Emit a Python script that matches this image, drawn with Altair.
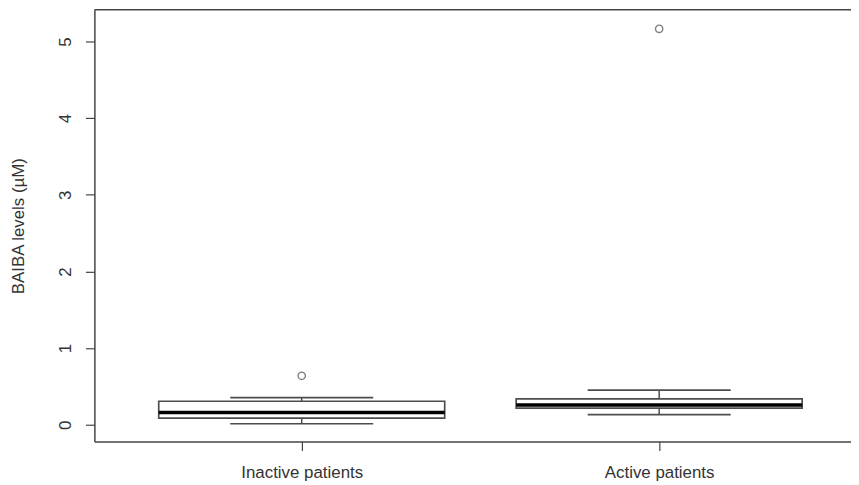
import altair as alt
import pandas as pd

# ---- data ----
categories = ["Inactive patients", "Active patients"]
whisker_lo = [0.013, 0.133]
q1 = [0.087, 0.216]
median = [0.159, 0.259]
q3 = [0.307, 0.337]
whisker_hi = [0.354, 0.453]
outlier_group = ["Inactive patients", "Active patients"]
outlier_value = [0.639, 5.165]

y_ticks = [0, 1, 2, 3, 4, 5]
y_title = "BAIBA levels (\u00b5M)"

# ---- tables ----
pos = {c: i + 1 for i, c in enumerate(categories)}
box = pd.DataFrame({
    "group": categories,
    "pos": [pos[c] for c in categories],
    "lo": whisker_lo, "q1": q1, "med": median, "q3": q3, "hi": whisker_hi,
})
box["bl"] = box["pos"] - 0.4
box["br"] = box["pos"] + 0.4
box["sl"] = box["pos"] - 0.2
box["sr"] = box["pos"] + 0.2
outl = pd.DataFrame({"group": outlier_group,
                     "pos": [pos[g] for g in outlier_group],
                     "value": outlier_value})

W, H = 762, 435
FONT = "Liberation Sans"
GRAY = "#4d4d4d"
TXT = "#333333"

label_expr = " : ".join(
    [f"datum.value == {pos[c]} ? '{c}'" for c in categories]) + " : ''"

xscale = alt.Scale(domain=[0.42, 0.42 + W / 360], nice=False, zero=False)
yscale = alt.Scale(domain=[-0.22, 5.415], nice=False, zero=False)

xaxis = alt.Axis(values=[pos[c] for c in categories], labelExpr=label_expr,
                 title=None, grid=False, domainColor="#444444", domainWidth=1.5,
                 tickColor="#444444", tickWidth=1.2, tickSize=9, labelPadding=14,
                 labelFont=FONT, labelFontSize=17, labelColor=TXT)
yaxis = alt.Axis(values=y_ticks, format="d", title=y_title, grid=False,
                 domainColor="#444444", domainWidth=1.5,
                 tickColor="#444444", tickWidth=1.2, tickSize=9,
                 labelAngle=270, labelAlign="center", labelBaseline="bottom",
                 labelPadding=11, labelFont=FONT, labelFontSize=17, labelColor=TXT,
                 titleFont=FONT, titleFontSize=17, titleFontWeight="normal",
                 titleColor=TXT, titleX=-76, titleY=H / 2, titleAngle=270,
                 titleBaseline="middle", titleAlign="center")

base = alt.Chart(box)

boxes = base.mark_rect(fill="white", stroke=GRAY, strokeWidth=1.7).encode(
    x=alt.X("bl:Q", scale=xscale, axis=xaxis),
    x2="br:Q",
    y=alt.Y("q1:Q", scale=yscale, axis=yaxis),
    y2="q3:Q",
)
med = base.mark_rule(color="black", strokeWidth=3.5).encode(
    x="bl:Q", x2="br:Q", y="med:Q")
wh_up = base.mark_rule(color=GRAY, strokeWidth=1.5).encode(
    x="pos:Q", y="q3:Q", y2="hi:Q")
wh_dn = base.mark_rule(color=GRAY, strokeWidth=1.5).encode(
    x="pos:Q", y="lo:Q", y2="q1:Q")
cap_up = base.mark_rule(color=GRAY, strokeWidth=1.7).encode(
    x="sl:Q", x2="sr:Q", y="hi:Q")
cap_dn = base.mark_rule(color=GRAY, strokeWidth=1.7).encode(
    x="sl:Q", x2="sr:Q", y="lo:Q")
pts = alt.Chart(outl).mark_point(shape="circle", filled=False, color=GRAY,
                                 strokeWidth=1.4, size=55).encode(
    x="pos:Q", y="value:Q")
top = alt.Chart(pd.DataFrame({"a": [0]})).mark_rule(
    color="#444444", strokeWidth=1.5).encode(
    x=alt.value(0), x2=alt.value(W), y=alt.value(0))

chart = alt.layer(boxes, med, wh_up, wh_dn, cap_up, cap_dn, pts, top).properties(
    width=W, height=H,
    autosize=alt.AutoSizeParams(type="none"),
    padding={"left": 87, "top": 0, "right": 0, "bottom": 44},
    background="white",
).configure_view(stroke="transparent", strokeWidth=0)

chart.save("out.html", embed_options={"renderer": "svg", "actions": False})
